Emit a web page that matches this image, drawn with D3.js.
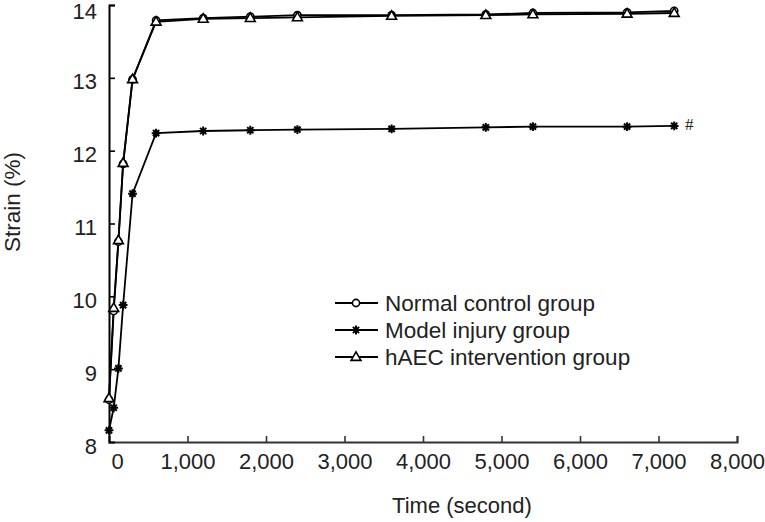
<!DOCTYPE html>
<html>
<head>
<meta charset="utf-8">
<script src="https://cdn.jsdelivr.net/npm/d3@7"></script>
<style>
  body { margin: 0; background: #fff; }
  svg { display: block; font-family: "Liberation Sans", Arial, sans-serif; }
</style>
</head>
<body>
<svg id="chart" width="765" height="522"></svg>
<script>
// time points (seconds) shared by all groups
var times = [0, 60, 120, 180, 300, 600, 1200, 1800, 2400, 3600, 4800, 5400, 6600, 7200];

var normalValues = [8.58, 9.80, 10.75, 11.82, 12.98, 13.79, 13.82, 13.84, 13.86, 13.86, 13.87, 13.89, 13.90, 13.92];
var modelValues  = [8.16, 8.47, 9.01, 9.88, 11.41, 12.24, 12.27, 12.28, 12.29, 12.30, 12.32, 12.33, 12.33, 12.34];
var haecValues   = [8.60, 9.84, 10.77, 11.83, 12.98, 13.77, 13.81, 13.82, 13.83, 13.85, 13.86, 13.87, 13.88, 13.89];

var seriesNames = ["Normal control group", "Model injury group", "hAEC intervention group"];
var xTicks = [0, 1000, 2000, 3000, 4000, 5000, 6000, 7000, 8000];
var yTicks = [8, 9, 10, 11, 12, 13, 14];

var series = [
  {name: seriesNames[0], values: normalValues, marker: "circle"},
  {name: seriesNames[1], values: modelValues, marker: "star"},
  {name: seriesNames[2], values: haecValues, marker: "triangle"}
];

var svg = d3.select("#chart");

var x = d3.scaleLinear().domain([0, 8000]).range([109, 737]);
var y = d3.scaleLinear().domain([8, 14]).range([442, 5]);

// draws one marker at (0,0) inside g
function drawMarker(g, kind) {
  if (kind == "circle") {
    g.append("circle").attr("r", 3.6)
      .attr("fill", "#fff").attr("stroke", "#000").attr("stroke-width", 1.6);
  } else if (kind == "triangle") {
    g.append("path").attr("d", d3.symbol().type(d3.symbolTriangle).size(42)())
      .attr("transform", "translate(0,0.5)")
      .attr("fill", "#fff").attr("stroke", "#000").attr("stroke-width", 1.6);
  } else {
    var r = 4.4, p = "";
    [0, 45, 90, 135].forEach(function(a) {
      var c = Math.cos(a * Math.PI / 180) * r, s = Math.sin(a * Math.PI / 180) * r;
      p += "M" + (-c) + "," + (-s) + "L" + c + "," + s;
    });
    g.append("path").attr("d", p).attr("stroke", "#000").attr("stroke-width", 2);
  }
}

// axes
var xAxis = d3.axisBottom(x).tickValues(xTicks).tickSize(-6).tickPadding(11)
  .tickFormat(d3.format(","));
var gx = svg.append("g").attr("transform", "translate(0,442)").call(xAxis);
gx.select(".domain").attr("stroke", "#333").attr("stroke-width", 2);
gx.selectAll(".tick line").attr("stroke", "#333").attr("stroke-width", 1.6);
gx.selectAll(".tick text").attr("font-size", 22).attr("fill", "#222")
  .attr("font-family", "Liberation Sans, Arial, sans-serif");
gx.selectAll(".tick").filter(function(d) { return d == 0; }).select("line").remove();
gx.selectAll(".tick").filter(function(d) { return d == 0; }).select("text").attr("x", 8);

var yAxis = d3.axisLeft(y).tickValues(yTicks).tickSize(-6).tickPadding(12)
  .tickFormat(d3.format("d"));
var gy = svg.append("g").attr("transform", "translate(109,0)").call(yAxis);
gy.select(".domain").attr("stroke", "#000").attr("stroke-width", 2);
gy.selectAll(".tick line").attr("stroke", "#000").attr("stroke-width", 1.6);
gy.selectAll(".tick").filter(function(d) { return d == 8; }).select("line").remove();
gy.selectAll(".tick text").attr("font-size", 22).attr("fill", "#222")
  .attr("y", 4)
  .attr("font-family", "Liberation Sans, Arial, sans-serif");
gy.selectAll(".tick").filter(function(d) { return d == 14; }).select("text").attr("y", 6);

// axis titles
svg.append("text").attr("x", 462).attr("y", 513).attr("text-anchor", "middle")
  .attr("font-size", 22).attr("fill", "#222").text("Time (second)");
svg.append("text").attr("transform", "translate(20,202) rotate(-90)")
  .attr("text-anchor", "middle").attr("font-size", 22.5).attr("fill", "#222").text("Strain (%)");

// lines and markers
var line = d3.line().x(function(d, i) { return x(times[i]); }).y(function(d) { return y(d); });

series.forEach(function(s) {
  svg.append("path").datum(s.values).attr("d", line)
    .attr("fill", "none").attr("stroke", "#000").attr("stroke-width", 1.8);
});
series.forEach(function(s) {
  s.values.forEach(function(v, i) {
    var g = svg.append("g").attr("transform", "translate(" + x(times[i]) + "," + y(v) + ")");
    drawMarker(g, s.marker);
  });
});

// significance mark
svg.append("text").attr("x", 685).attr("y", 130)
  .attr("font-family", "Liberation Serif, serif").attr("font-size", 17).attr("fill", "#222")
  .text("#");

// legend
var legend = svg.append("g").attr("transform", "translate(335,303)");
series.forEach(function(s, i) {
  var row = legend.append("g").attr("transform", "translate(0," + (i * 27) + ")");
  row.append("line").attr("x1", 0).attr("x2", 43).attr("y1", 0).attr("y2", 0)
    .attr("stroke", "#000").attr("stroke-width", 1.8);
  drawMarker(row.append("g").attr("transform", "translate(21,0)"), s.marker);
  row.append("text").attr("x", 50).attr("y", 8).attr("font-size", 22.5).attr("fill", "#222")
    .text(s.name);
});
</script>
</body>
</html>
